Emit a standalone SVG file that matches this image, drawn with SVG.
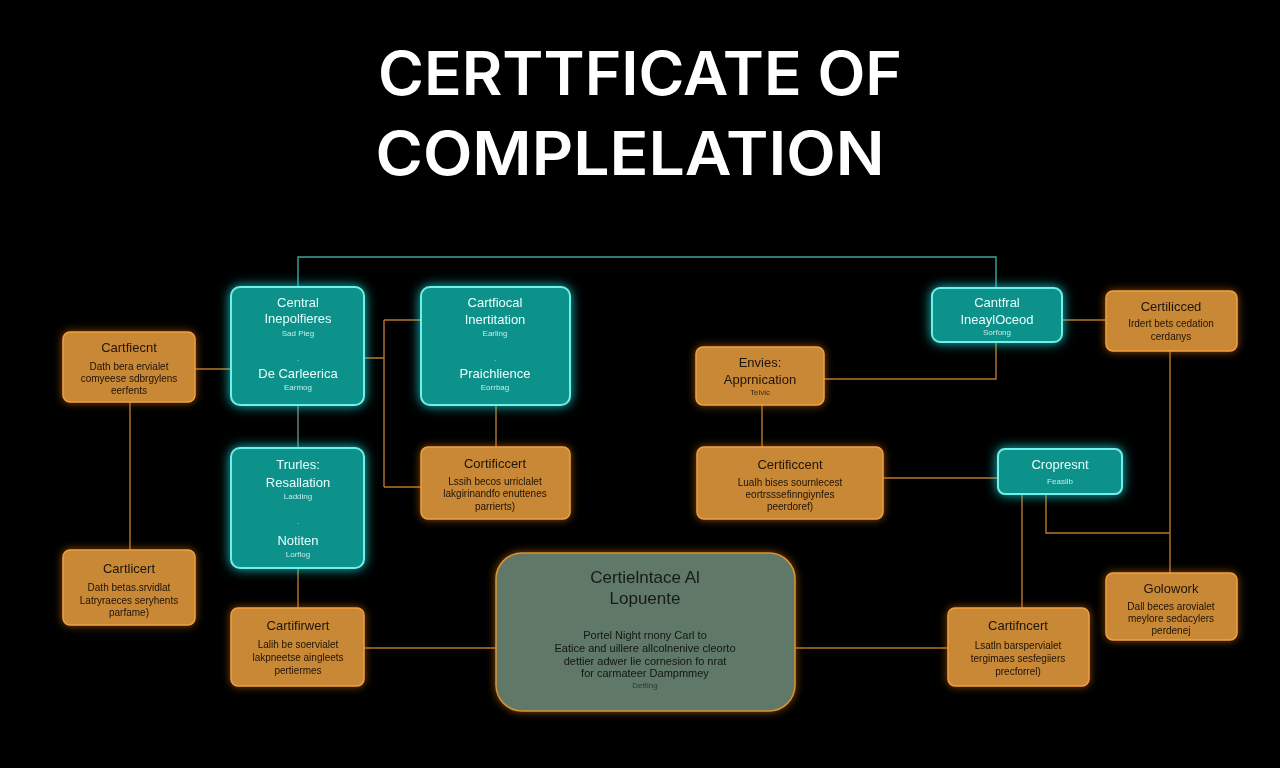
<svg xmlns="http://www.w3.org/2000/svg" width="1280" height="768" viewBox="0 0 1280 768">
<defs>
<filter id="glowT" x="-30%" y="-30%" width="160%" height="160%">
<feGaussianBlur in="SourceAlpha" stdDeviation="6" result="b"/>
<feFlood flood-color="#20e6e6" flood-opacity="0.85"/>
<feComposite in2="b" operator="in" result="g"/>
<feMerge><feMergeNode in="g"/><feMergeNode in="SourceGraphic"/></feMerge>
</filter>
<filter id="glowO" x="-30%" y="-30%" width="160%" height="160%">
<feGaussianBlur in="SourceAlpha" stdDeviation="4" result="b"/>
<feFlood flood-color="#e07a10" flood-opacity="0.6"/>
<feComposite in2="b" operator="in" result="g"/>
<feMerge><feMergeNode in="g"/><feMergeNode in="SourceGraphic"/></feMerge>
</filter>
</defs>
<style>
text{font-family:"Liberation Sans","DejaVu Sans",sans-serif;text-anchor:middle}
.title{font-family:Inter,"Liberation Sans",sans-serif;font-size:60px;font-weight:600;fill:#ffffff}
.teal{fill:#0e918b;stroke:#6ff0ea;stroke-width:2}
.orng{fill:#c98836;stroke:#f0a040;stroke-width:1.5}
.grey{fill:#5f7868;stroke:#d99436;stroke-width:1.5}
.th{font-size:13px;fill:#e9fffd}
.ts{font-size:8px;fill:#bfeeea}
.oh{font-size:13px;fill:#1e1408}
.ob{font-size:10px;fill:#1e1408}
.os{font-size:8px;fill:#3a2a12}
.gh{font-size:17px;fill:#151a16}
.gb{font-size:11px;fill:#121612}
.gs{font-size:8px;fill:#2c3a30}
.co{fill:none;stroke:#b8762c;stroke-width:1.4}
.ct{fill:none;stroke:#3aa5a0;stroke-width:1.4}
.cg{fill:none;stroke:#6b8a7c;stroke-width:1.4}
</style>
<rect width="1280" height="768" fill="#000"/>
<text class="title" x="640" y="95" textLength="524" lengthAdjust="spacingAndGlyphs">CERTTFICATE OF</text>
<text class="title" x="630" y="175" textLength="509" lengthAdjust="spacingAndGlyphs">COMPLELATION</text>

<g id="connectors">
<path class="ct" d="M298 287 V257 H996 V288"/>
<path class="co" d="M195 369 H231"/>
<path class="co" d="M130 402 V550"/>
<path class="co" d="M364 358 H384 M384 320 V487 M384 320 H421 M384 487 H421"/>
<path class="cg" d="M298 405 V448"/>
<path class="co" d="M298 568 V608"/>
<path class="co" d="M496 405 V447"/>
<path class="co" d="M364 648 H496"/>
<path class="co" d="M795 648 H948"/>
<path class="co" d="M824 379 H996 V342"/>
<path class="co" d="M1062 320 H1106"/>
<path class="co" d="M762 405 V447"/>
<path class="co" d="M883 478 H998"/>
<path class="co" d="M1170 351 V573"/>
<path class="co" d="M1046 494 V533 H1170"/>
<path class="co" d="M1022 494 V608"/>
</g>

<g id="n-left1" filter="url(#glowO)">
<rect class="orng" x="63" y="332" width="132" height="70" rx="7"/>
<text class="oh" x="129" y="352">Cartfiecnt</text>
<text class="ob" x="129" y="370">Dath bera ervialet</text>
<text class="ob" x="129" y="382">comyeese sdbrgylens</text>
<text class="ob" x="129" y="394">eerfents</text>
</g>
<g id="n-left2" filter="url(#glowO)">
<rect class="orng" x="63" y="550" width="132" height="75" rx="7"/>
<text class="oh" x="129" y="573">Cartlicert</text>
<text class="ob" x="129" y="591">Dath betas.srvidlat</text>
<text class="ob" x="129" y="604">Latryraeces seryhents</text>
<text class="ob" x="129" y="616">parfame)</text>
</g>
<g id="t1" filter="url(#glowT)">
<rect class="teal" x="231" y="287" width="133" height="118" rx="9"/>
<text class="th" x="298" y="307">Central</text>
<text class="th" x="298" y="323">Inepolfieres</text>
<text class="ts" x="298" y="336">Sad Pieg</text>
<text class="ts" x="298" y="361">.</text>
<text class="th" x="298" y="378">De Carleerica</text>
<text class="ts" x="298" y="390">Earmog</text>
</g>
<g id="t3" filter="url(#glowT)">
<rect class="teal" x="231" y="448" width="133" height="120" rx="9"/>
<text class="th" x="298" y="469">Trurles:</text>
<text class="th" x="298" y="487">Resallation</text>
<text class="ts" x="298" y="499">Ladding</text>
<text class="ts" x="298" y="524">.</text>
<text class="th" x="298" y="545">Notiten</text>
<text class="ts" x="298" y="557">Lorflog</text>
</g>
<g id="b1" filter="url(#glowO)">
<rect class="orng" x="231" y="608" width="133" height="78" rx="7"/>
<text class="oh" x="298" y="630">Cartifirwert</text>
<text class="ob" x="298" y="648">Lalih be soervialet</text>
<text class="ob" x="298" y="661">lakpneetse aingleets</text>
<text class="ob" x="298" y="674">pertiermes</text>
</g>
<g id="t2" filter="url(#glowT)">
<rect class="teal" x="421" y="287" width="149" height="118" rx="9"/>
<text class="th" x="495" y="307">Cartfiocal</text>
<text class="th" x="495" y="324">Inertitation</text>
<text class="ts" x="495" y="336">Earling</text>
<text class="ts" x="495" y="361">.</text>
<text class="th" x="495" y="378">Praichlience</text>
<text class="ts" x="495" y="390">Eorrbag</text>
</g>
<g id="m1" filter="url(#glowO)">
<rect class="orng" x="421" y="447" width="149" height="72" rx="7"/>
<text class="oh" x="495" y="468">Cortificcert</text>
<text class="ob" x="495" y="485">Lssih becos urriclalet</text>
<text class="ob" x="495" y="497">lakgirinandfo enuttenes</text>
<text class="ob" x="495" y="510">parrierts)</text>
</g>
<g id="center" filter="url(#glowO)">
<rect class="grey" x="496" y="553" width="299" height="158" rx="26"/>
<text class="gh" x="645" y="583">Certielntace Al</text>
<text class="gh" x="645" y="604">Lopuente</text>
<text class="gb" x="645" y="639">Portel Night rnony Carl to</text>
<text class="gb" x="645" y="652">Eatice and uillere allcolnenive cleorto</text>
<text class="gb" x="645" y="665">dettier adwer lie cornesion fo nrat</text>
<text class="gb" x="645" y="677">for carmateer Dampmmey</text>
<text class="gs" x="645" y="688">Detting</text>
</g>
<g id="e1" filter="url(#glowO)">
<rect class="orng" x="696" y="347" width="128" height="58" rx="7"/>
<text class="oh" x="760" y="367">Envies:</text>
<text class="oh" x="760" y="384">Apprnication</text>
<text class="os" x="760" y="395">Telvic</text>
</g>
<g id="m2" filter="url(#glowO)">
<rect class="orng" x="697" y="447" width="186" height="72" rx="7"/>
<text class="oh" x="790" y="469">Certificcent</text>
<text class="ob" x="790" y="486">Lualh bises sournlecest</text>
<text class="ob" x="790" y="498">eortrsssefinngiynfes</text>
<text class="ob" x="790" y="510">peerdoref)</text>
</g>
<g id="t4" filter="url(#glowT)">
<rect class="teal" x="932" y="288" width="130" height="54" rx="8"/>
<text class="th" x="997" y="307">Cantfral</text>
<text class="th" x="997" y="324">IneaylOceod</text>
<text class="ts" x="997" y="335">Sorfong</text>
</g>
<g id="r1" filter="url(#glowO)">
<rect class="orng" x="1106" y="291" width="131" height="60" rx="7"/>
<text class="oh" x="1171" y="311">Certilicced</text>
<text class="ob" x="1171" y="327">Irdert bets cedation</text>
<text class="ob" x="1171" y="340">cerdanys</text>
</g>
<g id="t5" filter="url(#glowT)">
<rect class="teal" x="998" y="449" width="124" height="45" rx="7"/>
<text class="th" x="1060" y="469">Cropresnt</text>
<text class="ts" x="1060" y="484">Feasilb</text>
</g>
<g id="r2" filter="url(#glowO)">
<rect class="orng" x="1106" y="573" width="131" height="67" rx="7"/>
<text class="oh" x="1171" y="593">Golowork</text>
<text class="ob" x="1171" y="610">Dall beces arovialet</text>
<text class="ob" x="1171" y="622">meylore sedacylers</text>
<text class="ob" x="1171" y="634">perdenej</text>
</g>
<g id="br1" filter="url(#glowO)">
<rect class="orng" x="948" y="608" width="141" height="78" rx="7"/>
<text class="oh" x="1018" y="630">Cartifncert</text>
<text class="ob" x="1018" y="649">Lsatln barspervialet</text>
<text class="ob" x="1018" y="662">tergimaes sesfegiiers</text>
<text class="ob" x="1018" y="675">precforrel)</text>
</g>
</svg>
